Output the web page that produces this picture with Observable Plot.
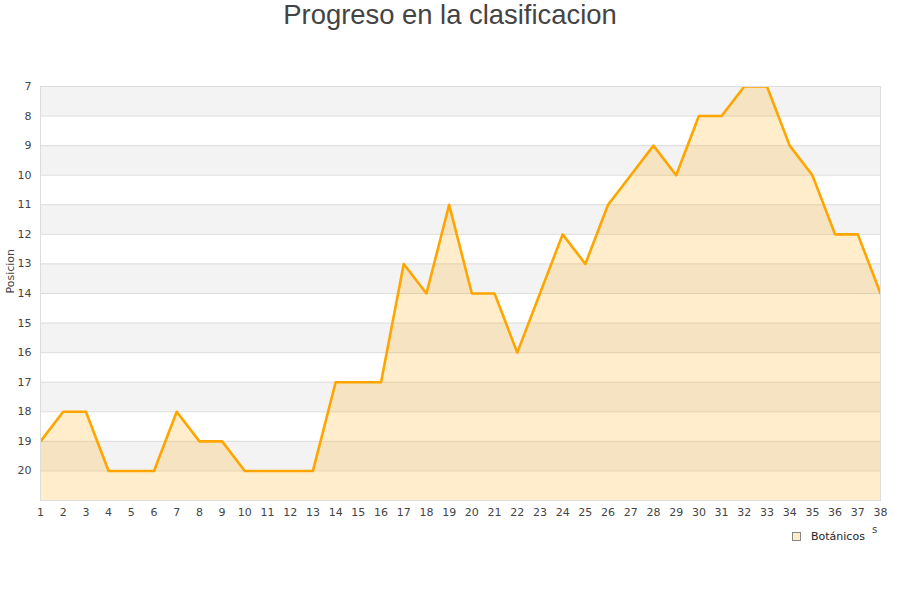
<!DOCTYPE html>
<html>
<head>
<meta charset="utf-8">
<script src="https://cdn.jsdelivr.net/npm/d3@7"></script>
<script src="https://cdn.jsdelivr.net/npm/@observablehq/plot@0.6"></script>
<style>
  html, body { margin: 0; padding: 0; background: #fff; }
  #wrap { position: relative; width: 900px; height: 600px; overflow: hidden; }
  #title { position: absolute; top: -1px; left: 0; width: 900px; text-align: center;
    font-family: "Liberation Sans", Arial, sans-serif; font-size: 27.4px; color: #444; line-height: 32px; }
  #legend { position: absolute; left: 792px; top: 530px; font-family: "DejaVu Sans", sans-serif;
    font-size: 11px; color: #222; display: flex; align-items: center; }
  #legend .sw { width: 7px; height: 7px; background: #FFEDCC; border: 1px solid #888; margin-right: 10px; }
  #extra { position: absolute; left: 872px; top: 524px; font-family: "DejaVu Sans", sans-serif; font-size: 10px; color: #444; }
</style>
</head>
<body>
<div id="wrap">
  <div id="title">Progreso en la clasificacion</div>
  <div id="chart"></div>
  <div id="legend"><span class="sw"></span><span>Botánicos</span></div>
  <div id="extra">s</div>
</div>
<script>
const jornadas = [1,2,3,4,5,6,7,8,9,10,11,12,13,14,15,16,17,18,19,20,21,22,23,24,25,26,27,28,29,30,31,32,33,34,35,36,37,38];
const posiciones = [19,18,18,20,20,20,18,19,19,20,20,20,20,17,17,17,13,14,11,14,14,16,14,12,13,11,10,9,10,8,8,7,7,9,10,12,12,14];
const yTicks = [7,8,9,10,11,12,13,14,15,16,17,18,19,20];
const xTicks = jornadas;
const seriesName = "Botánicos";

const data = jornadas.map((j, i) => ({jornada: j, posicion: posiciones[i], serie: seriesName}));
const bands = yTicks.filter((t, i) => i % 2 === 0);

const chart = Plot.plot({
  width: 900,
  height: 600,
  marginLeft: 40,
  marginRight: 20,
  marginTop: 86,
  marginBottom: 100,
  style: { fontFamily: "DejaVu Sans, sans-serif", fontSize: "11px", color: "#444", background: "transparent" },
  x: { domain: [1, 38], ticks: xTicks, tickSize: 0, tickPadding: 8, label: null, tickFormat: d => String(d) },
  y: { domain: [7, 21], reverse: true, ticks: yTicks, tickSize: 0, tickPadding: 9, label: null },
  marks: [
    Plot.rect(bands, { x1: () => 1, x2: () => 38, y1: d => d, y2: d => d + 1, fill: "#f3f3f3" }),
    Plot.gridY(yTicks, { stroke: "#dddddd", strokeOpacity: 1 }),
    Plot.areaY(data, { x: "jornada", y1: () => 21, y2: "posicion", fill: "#FFA500", fillOpacity: 0.2 }),
    Plot.line(data, { x: "jornada", y: "posicion", stroke: "#FFA500", strokeWidth: 2.6, clip: true }),
    Plot.frame({ stroke: "#dddddd" }),
    Plot.axisX({ ticks: xTicks, tickSize: 0, tickPadding: 8, fill: "#444" }),
    Plot.axisY({ ticks: yTicks, tickSize: 0, tickPadding: 9, fill: "#444" }),
    Plot.text(["Posicion"], { frameAnchor: "left", dx: -30, rotate: -90, text: d => d, fill: "#444", fontSize: 11 })
  ]
});
document.getElementById("chart").appendChild(chart);
</script>
</body>
</html>
